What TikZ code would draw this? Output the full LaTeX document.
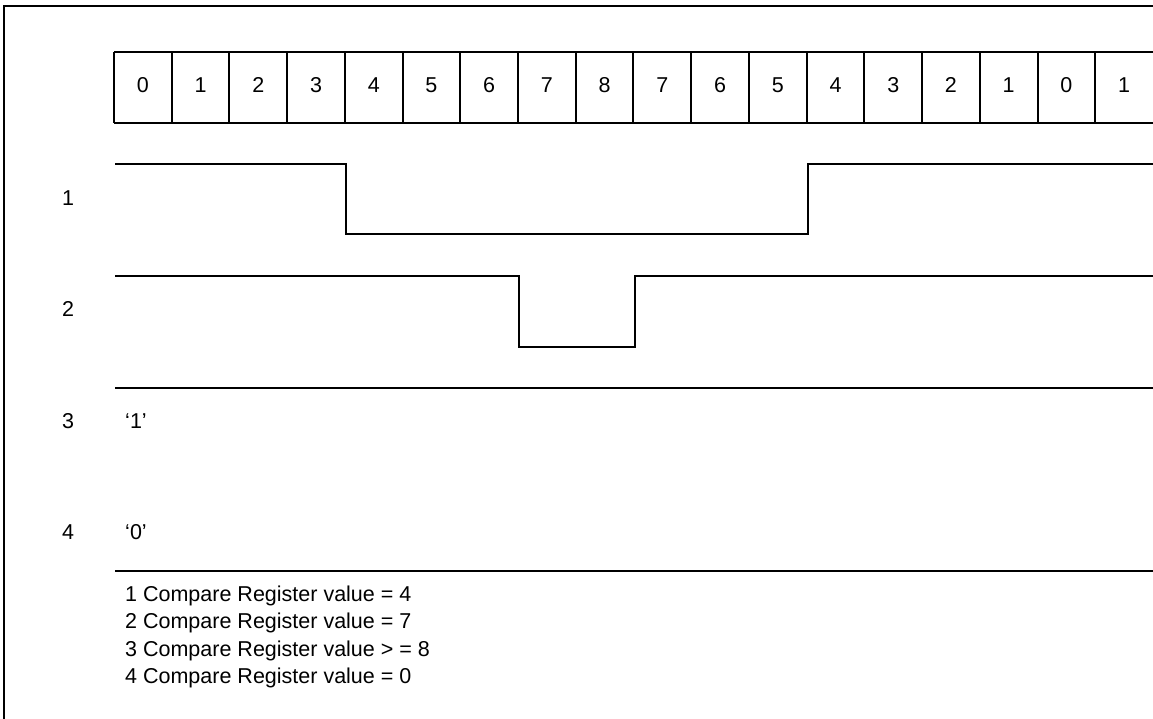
\documentclass[tikz,border=0pt]{standalone}
\usepackage{fontspec}
\setmainfont{Liberation Sans}
\begin{document}
\begin{tikzpicture}[x=1pt,y=-1pt,
  frame/.style={line width=2.6pt},
  grid/.style={line width=2pt},
  wave/.style={line width=2pt, line join=miter},
  sep/.style={line width=2.4pt},
  lbl/.style={font=\fontsize{21.5}{25}\selectfont, inner sep=0pt, text height=11pt, text depth=0pt},
  legend/.style={font=\fontsize{21.5}{25}\selectfont, inner sep=0pt, anchor=west, text height=11pt, text depth=3pt}]
\useasboundingbox (0,0) rectangle (1153,719);
% frame
\coordinate (fTL) at (4,6);
\coordinate (fTR) at (1153,6);
\coordinate (fBL) at (4,719);
\draw[frame] (fTR) -- (fTL) -- (fBL);
% counter cells
\coordinate (gTL) at (114,52);
\coordinate (gTR) at (1153,52);
\coordinate (gBL) at (114,123);
\coordinate (gBR) at (1153,123);
\draw[grid] (gTL) -- (gTR);
\draw[grid] (gBL) -- (gBR);
\foreach \v [count=\i from 0] in {0,1,2,3,4,5,6,7,8,7,6,5,4,3,2,1,0,1} {
  \draw[grid] (114+57.72*\i,52) -- (114+57.72*\i,123);
  \node[lbl] (c\i) at (114+57.72*\i+28.86,87.5) {\v};
}
% row labels
\node[lbl] (r1) at (68,200) {1};
\node[lbl] (r2) at (68,311) {2};
\node[lbl] (r3) at (68,423) {3};
\node[lbl] (r4) at (68,534) {4};
\node[lbl] (one) at (136,423) {‘1’};
\node[lbl] (zero) at (136,534) {‘0’};
% waveform 1
\coordinate (w1a) at (115,164);
\coordinate (w1b) at (346,164);
\coordinate (w1c) at (346,234);
\coordinate (w1d) at (808,234);
\coordinate (w1e) at (808,164);
\coordinate (w1f) at (1153,164);
\draw[wave] (w1a) -- (w1b) -- (w1c) -- (w1d) -- (w1e) -- (w1f);
% waveform 2
\coordinate (w2a) at (115,276);
\coordinate (w2b) at (519,276);
\coordinate (w2c) at (519,347);
\coordinate (w2d) at (635,347);
\coordinate (w2e) at (635,276);
\coordinate (w2f) at (1153,276);
\draw[wave] (w2a) -- (w2b) -- (w2c) -- (w2d) -- (w2e) -- (w2f);
% waveform 3
\coordinate (w3a) at (115,388);
\coordinate (w3b) at (1153,388);
\draw[wave] (w3a) -- (w3b);
% separator
\coordinate (sa) at (115,571);
\coordinate (sb) at (1153,571);
\draw[sep] (sa) -- (sb);
% legend
\node[legend] (l1) at (125,597) {1 Compare Register value = 4};
\node[legend] (l2) at (125,624) {2 Compare Register value = 7};
\node[legend] (l3) at (125,652) {3 Compare Register value > = 8};
\node[legend] (l4) at (125,679) {4 Compare Register value = 0};
\end{tikzpicture}
\end{document}
